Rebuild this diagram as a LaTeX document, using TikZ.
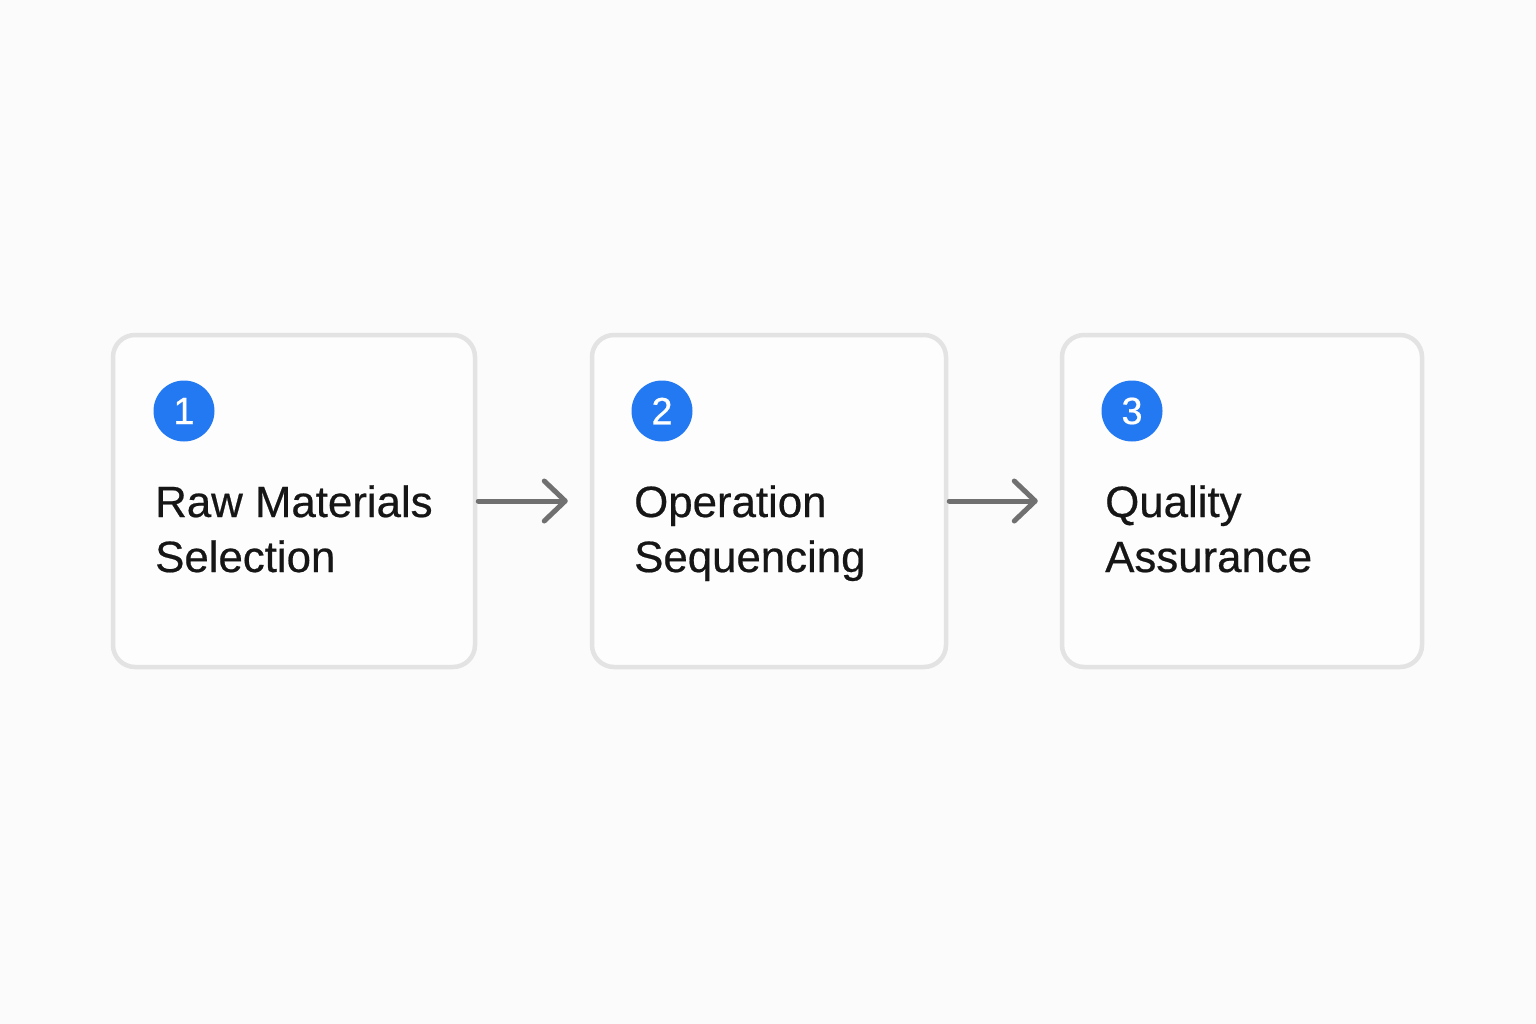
\documentclass[tikz,border=0pt]{standalone}
\usepackage{fontspec}
\setmainfont{Liberation Sans}
\newfontfamily\medfont[FakeBold=0.5]{Liberation Sans}
\usetikzlibrary{arrows.meta}
\definecolor{bgc}{HTML}{FBFBFB}
\definecolor{boxfill}{HTML}{FDFDFD}
\definecolor{boxline}{HTML}{E3E3E3}
\definecolor{numblue}{HTML}{2379F2}
\definecolor{arrowgray}{HTML}{707070}
\definecolor{txt}{HTML}{161616}
\tikzset{
  stepbox/.style={draw=boxline, fill=boxfill, line width=4.5pt, rounded corners=22pt,
    minimum height=332pt, inner sep=0pt},
  numdot/.style={circle, fill=numblue, minimum size=61pt, inner sep=0pt,
    text=white, font=\medfont\fontsize{38}{38}\selectfont},
  steplabel/.style={anchor=base west, align=left, inner sep=0pt, text=txt,
    font=\medfont\fontsize{43.8}{55}\selectfont},
  flow/.style={draw=arrowgray, line width=5pt, line cap=round,
    -{Straight Barb[length=21pt, width=40pt, round]}}
}
\begin{document}
\begin{tikzpicture}[x=1pt, y=-1pt]
\fill[bgc] (0,0) rectangle (1536,1024);
\useasboundingbox (0,0) rectangle (1536,1024);

\node[stepbox, minimum width=362pt] (b1) at (294,501) {};
\node[stepbox, minimum width=354pt] (b2) at (769,501) {};
\node[stepbox, minimum width=360pt] (b3) at (1242,501) {};

\node[numdot] (n1) at (184,411) {1};
\node[numdot] (n2) at (662,411) {2};
\node[numdot] (n3) at (1132,411) {3};

\node[steplabel] (t1) at (155,572) {Raw Materials\\Selection};
\node[steplabel] (t2) at (634,572) {Operation\\Sequencing};
\node[steplabel] (t3) at (1105,572) {Quality\\Assurance};

\draw[flow, shorten <=1pt, shorten >=22pt] (b1.east) -- (b2.west);
\draw[flow, shorten <=1pt, shorten >=22pt] (b2.east) -- (b3.west);
\end{tikzpicture}
\end{document}
